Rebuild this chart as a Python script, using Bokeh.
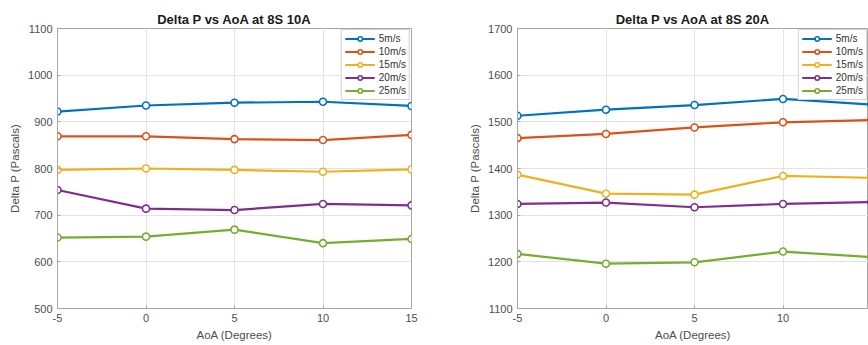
from bokeh.plotting import figure
from bokeh.layouts import row
from bokeh.models import Range1d, Legend, LegendItem, FixedTicker
from bokeh.embed import file_html
from bokeh.resources import INLINE

aoa = [-5, 0, 5, 10, 15]
labels = ["5m/s", "10m/s", "15m/s", "20m/s", "25m/s"]
colors = ["#0072BD", "#D95319", "#EDB120", "#7E2F8E", "#77AC30"]

left_title = "Delta P vs AoA at 8S 10A"
left_5 = [922, 935, 941, 943, 934]
left_10 = [869, 869, 863, 861, 872]
left_15 = [797, 800, 797, 793, 798]
left_20 = [754, 714, 711, 724, 721]
left_25 = [652, 654, 669, 640, 649]
left_yticks = [500, 600, 700, 800, 900, 1000, 1100]

right_title = "Delta P vs AoA at 8S 20A"
right_5 = [1513, 1526, 1536, 1549, 1537]
right_10 = [1465, 1474, 1488, 1499, 1504]
right_15 = [1387, 1346, 1344, 1384, 1380]
right_20 = [1324, 1327, 1317, 1324, 1328]
right_25 = [1217, 1196, 1199, 1222, 1210]
right_yticks = [1100, 1200, 1300, 1400, 1500, 1600, 1700]

xticks = [-5, 0, 5, 10, 15]
FONT = "Liberation Sans"


def make(title, series, yticks, width, bl, br, xend):
    p = figure(width=width, height=345, output_backend="svg", toolbar_location=None,
               x_range=Range1d(-5, xend), y_range=Range1d(yticks[0], yticks[-1]),
               min_border_left=bl, min_border_right=br, min_border_top=28,
               min_border_bottom=37)
    p.title.text = title
    p.title.align = "center"
    p.title.vertical_align = "middle"
    p.title.text_font = FONT
    p.title.text_font_size = "13px"
    p.title.text_font_style = "bold"
    p.title.text_color = "#1a1a1a"
    p.title.standoff = 2
    p.title.offset = 0
    p.background_fill_color = "white"
    p.border_fill_color = "white"
    p.outline_line_color = "#a6a6a6"
    p.outline_line_width = 1
    p.grid.grid_line_color = "#e3e3e3"
    p.grid.grid_line_width = 1
    p.xaxis.ticker = FixedTicker(ticks=xticks)
    p.yaxis.ticker = FixedTicker(ticks=yticks)
    p.xaxis.major_label_overrides = {t: str(t) for t in xticks}
    for ax in (p.xaxis, p.yaxis):
        ax.axis_line_color = "#a6a6a6"
        ax.major_tick_line_color = "#a6a6a6"
        ax.major_tick_in = 3
        ax.major_tick_out = 0
        ax.minor_tick_line_color = None
        ax.major_label_text_font = FONT
        ax.major_label_text_font_size = "11px"
        ax.major_label_text_color = "#4d4d4d"
        ax.axis_label_text_font = FONT
        ax.axis_label_text_font_size = "11.5px"
        ax.axis_label_text_font_style = "normal"
        ax.axis_label_text_color = "#4d4d4d"
    p.xaxis.axis_label = "AoA (Degrees)"
    p.yaxis.axis_label = "Delta P (Pascals)"
    p.xaxis.major_label_standoff = 5
    p.xaxis.axis_label_standoff = 4
    p.yaxis.major_label_standoff = 5
    p.yaxis.axis_label_standoff = 4

    items = []
    for vals, c, lab in zip(series, colors, labels):
        l = p.line(aoa, vals, line_color=c, line_width=2.2)
        m = p.scatter(aoa, vals, marker="circle", size=7, line_color=c, line_width=1.6,
                      fill_color="white")
        items.append(LegendItem(label=lab, renderers=[l, m]))
    leg = Legend(items=items, location="top_right", margin=1, padding=3, spacing=2,
                 glyph_width=30, glyph_height=11, label_height=11, label_standoff=4,
                 label_text_font=FONT, label_text_font_size="10px",
                 label_text_color="#333333", border_line_color="#a6a6a6",
                 border_line_width=1, background_fill_color="white",
                 background_fill_alpha=1.0)
    p.add_layout(leg, "center")
    return p


left = make(left_title, [left_5, left_10, left_15, left_20, left_25], left_yticks,
            466, 57, 55, 15)
right = make(right_title, [right_5, right_10, right_15, right_20, right_25], right_yticks,
             402, 49, 0, 14.83)

layout = row(left, right)
open("out.html", "w").write(file_html(layout, INLINE))
